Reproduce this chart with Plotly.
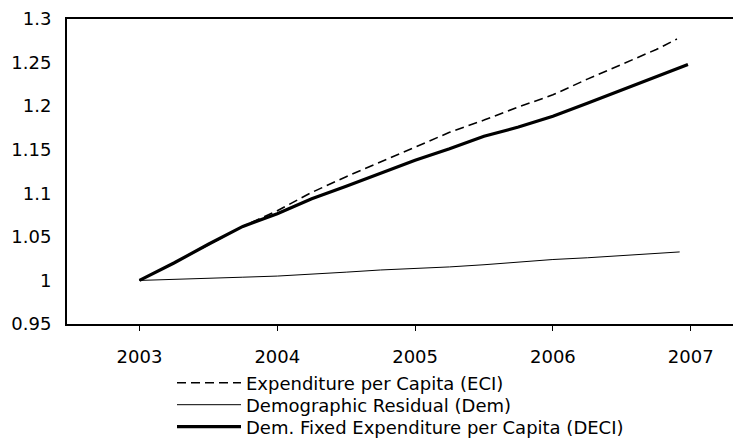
import plotly.graph_objects as go

# ---- data ----
eci_x = [2003, 2003.25, 2003.5, 2003.75, 2004, 2004.25, 2004.5, 2004.75, 2005,
         2005.25, 2005.5, 2005.75, 2006, 2006.25, 2006.5, 2006.75, 2006.9]
eci_y = [1.000, 1.020, 1.041, 1.062, 1.080, 1.101, 1.119, 1.136, 1.153,
         1.170, 1.184, 1.199, 1.213, 1.231, 1.248, 1.265, 1.277]

dem_x = [2003, 2003.25, 2003.5, 2003.75, 2004, 2004.25, 2004.5, 2004.75, 2005,
         2005.25, 2005.5, 2005.75, 2006, 2006.25, 2006.5, 2006.75, 2006.92]
dem_y = [1.000, 1.001, 1.0025, 1.0037, 1.005, 1.007, 1.0095, 1.012, 1.0135,
         1.0155, 1.018, 1.021, 1.024, 1.026, 1.0285, 1.031, 1.0327]

deci_x = [2003, 2003.25, 2003.5, 2003.75, 2004, 2004.25, 2004.5, 2004.75, 2005,
          2005.25, 2005.5, 2005.75, 2006, 2006.25, 2006.5, 2006.75, 2006.98]
deci_y = [1.000, 1.020, 1.0415, 1.062, 1.0765, 1.0936, 1.108, 1.123, 1.138,
          1.151, 1.1655, 1.176, 1.1885, 1.2034, 1.2184, 1.2336, 1.2477]

x_ticks = [2003, 2004, 2005, 2006, 2007]
x_tick_labels = ["2003", "2004", "2005", "2006", "2007"]
y_ticks = [0.95, 1, 1.05, 1.1, 1.15, 1.2, 1.25, 1.3]
y_tick_labels = ["0.95", "1", "1.05", "1.1", "1.15", "1.2", "1.25", "1.3"]

names = ["Expenditure per Capita (ECI)",
         "Demographic Residual (Dem)",
         "Dem. Fixed Expenditure per Capita (DECI)"]

FONT = "DejaVu Sans, Liberation Sans, Arial, sans-serif"

W, H = 741, 438
L, R, T, B = 59, 0, 11, 122
plot_h = H - T - B
plot_w = W - L - R


def legend_at(px_x, px_yc):
    return dict(
        x=(px_x - L) / plot_w, y=(H - B - px_yc) / plot_h,
        xanchor="left", yanchor="middle",
        bgcolor="rgba(0,0,0,0)", borderwidth=0,
        font=dict(family=FONT, size=18, color="#000"),
        itemwidth=64,
    )


fig = go.Figure()
fig.add_trace(go.Scatter(x=eci_x, y=eci_y, mode="lines", name=names[0], legend="legend",
                         line=dict(color="#000", width=1.6, dash="9px,5px")))
fig.add_trace(go.Scatter(x=dem_x, y=dem_y, mode="lines", name=names[1], legend="legend2",
                         line=dict(color="#000", width=1)))
fig.add_trace(go.Scatter(x=deci_x, y=deci_y, mode="lines", name=names[2], legend="legend3",
                         line=dict(color="#000", width=3.2)))

fig.update_layout(
    width=W, height=H,
    margin=dict(l=L, r=R, t=T, b=B, autoexpand=False),
    paper_bgcolor="white", plot_bgcolor="white",
    font=dict(family=FONT, size=18, color="#000"),
    showlegend=True,
    legend=legend_at(164, 375),
    legend2=legend_at(164, 397),
    legend3=legend_at(164, 419),
    xaxis=dict(
        range=[2002.474, 2007.423],
        tickmode="array", tickvals=x_ticks, ticktext=x_tick_labels,
        showgrid=False, zeroline=False,
        showline=True, linecolor="#000", linewidth=2, mirror=True,
        ticks="outside", ticklen=5, tickwidth=1, tickcolor="#000",
        ticklabelstandoff=10,
    ),
    yaxis=dict(
        range=[0.95, 1.3],
        tickmode="array", tickvals=y_ticks, ticktext=y_tick_labels,
        showgrid=False, zeroline=False,
        showline=True, linecolor="#000", linewidth=2, mirror=False,
        ticks="", ticklabelstandoff=10,
    ),
)

fig.write_html("out.html")
